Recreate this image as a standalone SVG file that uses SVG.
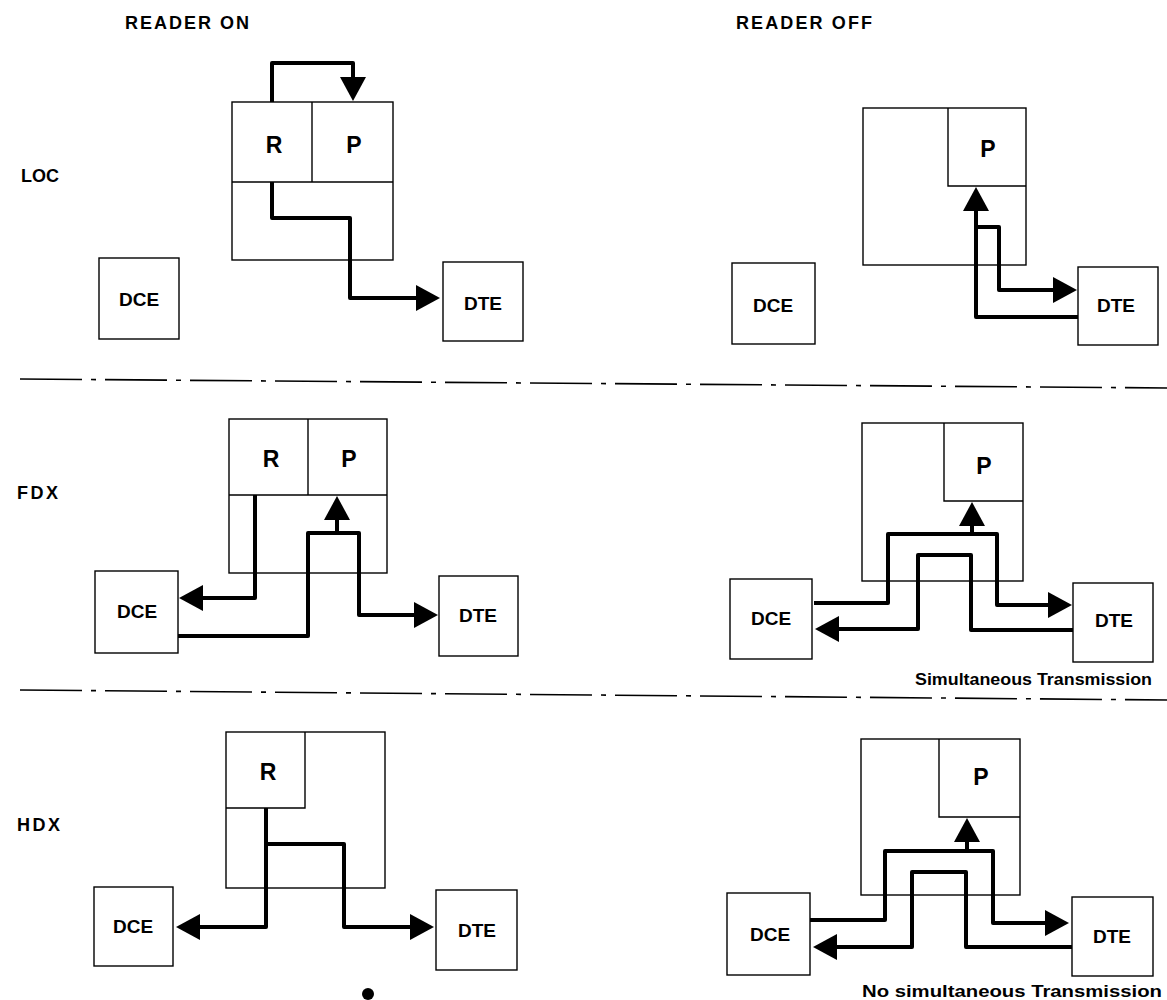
<svg xmlns="http://www.w3.org/2000/svg" width="1167" height="1000" viewBox="0 0 1167 1000">
<style>
.box{fill:none;stroke:#000;stroke-width:1.4}
.div{stroke:#000;stroke-width:1.4;fill:none}
.con{fill:none;stroke:#000;stroke-width:4;stroke-linejoin:round;stroke-linecap:butt}
.sep{stroke:#000;stroke-width:1.6;stroke-dasharray:62 9 5 9;fill:none}
.lbl{font-family:"Liberation Sans",Arial,sans-serif;font-weight:bold;font-size:18px;fill:#000}
.unit{font-family:"Liberation Sans",Arial,sans-serif;font-weight:bold;font-size:23px;fill:#000;text-anchor:middle}
.dev{font-family:"Liberation Sans",Arial,sans-serif;font-weight:bold;font-size:19px;fill:#000;text-anchor:middle}
.note{font-family:"Liberation Sans",Arial,sans-serif;font-weight:bold;font-size:16px;fill:#000}
</style>
<defs>
<marker id="ah" viewBox="0 0 24 26" markerWidth="24" markerHeight="26" refX="1" refY="13" orient="auto" markerUnits="userSpaceOnUse">
<path d="M0,0 L24,13 L0,26 Z" fill="#000"/>
</marker>
</defs>
<rect width="1167" height="1000" fill="#fff"/>

<g id="titles">
<text class="lbl" x="125" y="29" textLength="124" lengthAdjust="spacing">READER ON</text>
<text class="lbl" x="736" y="29" textLength="136" lengthAdjust="spacing">READER OFF</text>
<text class="lbl" x="21" y="182" textLength="38" lengthAdjust="spacing">LOC</text>
<text class="lbl" x="17" y="499" textLength="41" lengthAdjust="spacing">FDX</text>
<text class="lbl" x="17" y="831" textLength="43" lengthAdjust="spacing">HDX</text>
</g>

<g id="separators">
<line class="sep" x1="20" y1="379" x2="1167" y2="388"/>
<line class="sep" x1="20" y1="690" x2="1167" y2="700"/>
</g>

<!-- LOC / READER ON -->
<g id="loc-on-terminal">
<rect class="box" x="232" y="102" width="161" height="158"/>
<line class="div" x1="232" y1="182" x2="393" y2="182"/>
<line class="div" x1="312" y1="102" x2="312" y2="182"/>
<text class="unit" x="274" y="153">R</text>
<text class="unit" x="354" y="153">P</text>
</g>
<g id="loc-on-dce"><rect class="box" x="99" y="258" width="80" height="81"/><text class="dev" x="139" y="306">DCE</text></g>
<g id="loc-on-dte"><rect class="box" x="443" y="262" width="80" height="79"/><text class="dev" x="483" y="310">DTE</text></g>

<!-- LOC / READER OFF -->
<g id="loc-off-terminal">
<rect class="box" x="863" y="108" width="163" height="157"/>
<polyline class="div" points="948,108 948,186 1026,186"/>
<text class="unit" x="988" y="157">P</text>
</g>
<g id="loc-off-dce"><rect class="box" x="732" y="263" width="83" height="81"/><text class="dev" x="773" y="312">DCE</text></g>
<g id="loc-off-dte"><rect class="box" x="1078" y="267" width="80" height="78"/><text class="dev" x="1116" y="312">DTE</text></g>

<!-- FDX / READER ON -->
<g id="fdx-on-terminal">
<rect class="box" x="229" y="419" width="158" height="154"/>
<line class="div" x1="229" y1="495" x2="387" y2="495"/>
<line class="div" x1="308" y1="419" x2="308" y2="495"/>
<text class="unit" x="271" y="467">R</text>
<text class="unit" x="349" y="467">P</text>
</g>
<g id="fdx-on-dce"><rect class="box" x="95" y="571" width="83" height="82"/><text class="dev" x="137" y="618">DCE</text></g>
<g id="fdx-on-dte"><rect class="box" x="439" y="576" width="79" height="80"/><text class="dev" x="478" y="622">DTE</text></g>

<!-- FDX / READER OFF -->
<g id="fdx-off-terminal">
<rect class="box" x="862" y="423" width="161" height="158"/>
<polyline class="div" points="944,423 944,501 1023,501"/>
<text class="unit" x="984" y="474">P</text>
</g>
<g id="fdx-off-dce"><rect class="box" x="730" y="579" width="82" height="80"/><text class="dev" x="771" y="625">DCE</text></g>
<g id="fdx-off-dte"><rect class="box" x="1073" y="583" width="80" height="79"/><text class="dev" x="1114" y="627">DTE</text></g>
<text class="note" x="915" y="685" textLength="237" lengthAdjust="spacingAndGlyphs">Simultaneous Transmission</text>

<!-- HDX / READER ON -->
<g id="hdx-on-terminal">
<rect class="box" x="226" y="732" width="159" height="156"/>
<polyline class="div" points="305,732 305,808 226,808"/>
<text class="unit" x="268" y="780">R</text>
</g>
<g id="hdx-on-dce"><rect class="box" x="94" y="887" width="79" height="79"/><text class="dev" x="133" y="933">DCE</text></g>
<g id="hdx-on-dte"><rect class="box" x="436" y="890" width="81" height="80"/><text class="dev" x="477" y="937">DTE</text></g>
<circle cx="368" cy="994" r="6" fill="#000"/>

<!-- HDX / READER OFF -->
<g id="hdx-off-terminal">
<rect class="box" x="861" y="739" width="159" height="156"/>
<polyline class="div" points="939,739 939,817 1020,817"/>
<text class="unit" x="981" y="785">P</text>
</g>
<g id="hdx-off-dce"><rect class="box" x="727" y="893" width="83" height="82"/><text class="dev" x="770" y="941">DCE</text></g>
<g id="hdx-off-dte"><rect class="box" x="1072" y="897" width="81" height="79"/><text class="dev" x="1112" y="943">DTE</text></g>
<text class="note" x="862" y="997" font-size="17" textLength="300" lengthAdjust="spacingAndGlyphs">No simultaneous Transmission</text>

<g id="connectors">
<!-- LOC ON -->
<path class="con" d="M272,102 V63 H353 V78" marker-end="url(#ah)"/>
<path class="con" d="M272,182 V218 H350 V298 H417" marker-end="url(#ah)"/>
<!-- LOC OFF -->
<path class="con" d="M1078,317 H976 V210" marker-end="url(#ah)"/>
<path class="con" d="M976,227 H999 V290 H1054" marker-end="url(#ah)"/>
<!-- FDX ON -->
<path class="con" d="M255,495 V598 H202" marker-end="url(#ah)"/>
<path class="con" d="M178,636 H308 V533 H359 V615 H415" marker-end="url(#ah)"/>
<path class="con" d="M337,533 V519" marker-end="url(#ah)"/>
<!-- FDX OFF -->
<path class="con" d="M972,534 V525" marker-end="url(#ah)"/>
<path class="con" d="M814,603 H888 V534 H997 V605 H1049" marker-end="url(#ah)"/>
<path class="con" d="M1073,630 H971 V555 H918 V629 H838" marker-end="url(#ah)"/>
<!-- HDX ON -->
<path class="con" d="M266,808 V927 H199" marker-end="url(#ah)"/>
<path class="con" d="M266,844 H344 V927 H411" marker-end="url(#ah)"/>
<!-- HDX OFF -->
<path class="con" d="M967,851 V841" marker-end="url(#ah)"/>
<path class="con" d="M810,920 H885 V851 H993 V923 H1046" marker-end="url(#ah)"/>
<path class="con" d="M1072,947 H966 V872 H912 V947 H836" marker-end="url(#ah)"/>
</g>
</svg>
